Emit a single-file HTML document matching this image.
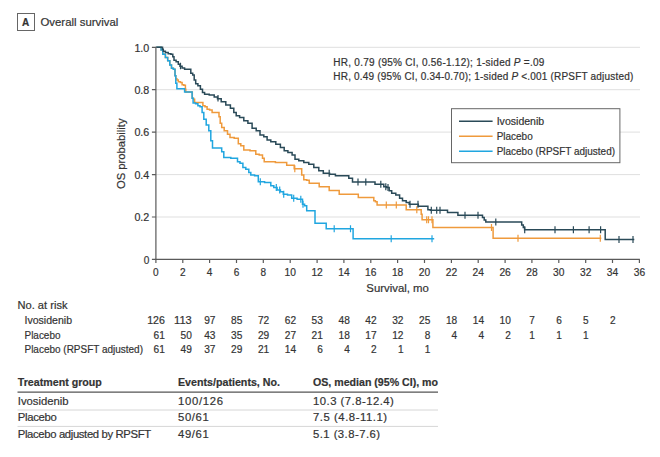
<!DOCTYPE html>
<html lang="en"><head><meta charset="utf-8"><title>Overall survival</title>
<style>html,body{margin:0;padding:0;background:#fff}svg{display:block}text{stroke:#333;stroke-width:.2px}</style></head>
<body>
<svg width="660" height="457" viewBox="0 0 660 457" font-family="'Liberation Sans', sans-serif" fill="#333">
<rect width="660" height="457" fill="#fff"/>
<line x1="155.9" x2="640" y1="47.3" y2="47.3" stroke="#dfdfdf" stroke-width="1"/>
<line x1="155.9" x2="640" y1="89.7" y2="89.7" stroke="#dfdfdf" stroke-width="1"/>
<line x1="155.9" x2="640" y1="132.1" y2="132.1" stroke="#dfdfdf" stroke-width="1"/>
<line x1="155.9" x2="640" y1="174.6" y2="174.6" stroke="#dfdfdf" stroke-width="1"/>
<line x1="155.9" x2="640" y1="217.0" y2="217.0" stroke="#dfdfdf" stroke-width="1"/>

<g fill="none" stroke-width="1.5" stroke-linejoin="miter">
<path d="M156.3 47.3H160.8H161.1V50.0H161.3H162.8V54.2H164.2H165.4V57.5H166.7H167.7V60.8H168.7H169.8V65.0H170.8H171.5V68.3H172.2H173.4V69.2H174.7H175.0V75.8H175.3H175.8V78.7H176.3H176.9V80.0H177.5H178.3V81.7H179.2H180.4V82.5H181.7H182.1V84.7H182.5H183.8V85.3H185.0H185.4V89.2H185.8V92.0H191.7H192.3V98.3H193.0H193.6V99.2H194.2H194.6V102.5H195.0H202.5H202.9V105.8H203.3H205.0V106.7H206.7H207.1V109.2H207.5H209.6V110.0H211.7H212.1V112.5H212.5H218.3H219.0V116.7H219.7H220.2V123.3H220.8H221.7V127.5H222.5H224.2V130.8H225.8H227.5V134.2H229.2H230.0V137.5H230.8H234.2V138.3H237.5H238.3V143.7H239.2H240.8V145.8H242.5H243.8V150.0H245.0H250.0V150.8H255.0H255.8V154.2H256.7H259.2V155.0H261.7H262.5V158.3H263.3H264.2V161.7H265.0H275.4V162.5H285.8H286.7V165.3H287.5H293.3H294.2V168.7H295.0H300.8H301.7V175.0H302.5H303.8V179.7H305.0H306.7V180.3H308.3H309.2V183.3H310.0H318.3H319.2V186.7H320.0H328.3H329.2V190.5H330.0H338.3H339.2V194.2H340.0H357.5H358.3V197.5H359.2H373.3H373.8V200.8H374.2H375.4V201.7H376.7H377.1V205.0H377.5H405.8H406.2V209.7H406.7H420.8H421.2V214.2H421.7H422.1V219.7H422.5H432.5H432.9V227.5H433.3H492.5H493.1V238.3H493.7H601.3" stroke="#ef9a3c"/>
<path d="M294.8 165.2v7.0M386.3 201.5v7.0M396.3 201.5v7.0M416.8 206.2v7.0M426.7 216.2v7.0M428.5 216.2v7.0M432.0 216.2v7.0M491.5 224.0v7.0M518.0 234.8v7.0M600.3 234.8v7.0" stroke="#ef9a3c" stroke-width="1.2"/>
<path d="M156.3 47.3H160.8H161.1V50.0H161.3H162.8V54.2H164.2H165.4V57.5H166.7H167.7V60.8H168.7H169.8V65.0H170.8H171.5V68.3H172.2H173.4V69.2H174.7H175.0V75.8H175.3H175.8V83.3H176.3H176.9V88.8H177.5H184.2H184.6V92.0H185.0H191.7H192.1V98.3H192.5H193.1V103.0H193.7H195.6V103.7H197.5H197.9V105.8H198.3H200.0V106.7H201.7H202.1V112.5H202.5H203.8V119.2H205.0H206.2V125.0H207.5H208.8V130.8H210.0H210.8V140.8H211.7H212.5V148.0H213.3H220.8H221.7V151.7H222.5H223.8V157.5H225.0H230.8V158.3H236.7H237.5V161.7H238.3H240.0V163.3H241.7H242.9V167.5H244.2H245.8V169.2H247.5H248.8V172.5H250.0H250.8V175.0H251.7H254.6V175.8H257.5H258.3V181.7H259.2H264.6V182.5H270.0H270.8V185.8H271.7H273.8V187.5H275.8H277.1V190.0H278.3H280.4V191.7H282.5H283.3V194.2H284.2H287.5V195.0H290.8H291.7V198.3H292.5H297.1V199.2H301.7H302.5V204.2H303.3H304.6V205.8H305.8H306.7V210.8H307.5H314.2H315.0V223.3H315.8H325.8H326.2V228.7H326.7H352.5H353.1V238.7H353.7H434.2" stroke="#20a6e0"/>
<path d="M260.3 178.2v7.0M276.3 184.0v7.0M279.7 186.5v7.0M283.7 190.7v7.0M293.7 194.8v7.0M300.8 195.7v7.0M303.0 200.7v7.0M334.2 225.2v7.0M350.5 225.2v7.0M391.2 235.2v7.0M432.0 235.2v7.0" stroke="#20a6e0" stroke-width="1.2"/>
<path d="M156.3 47.3H162.5V49.2H163.3V51.3H164.2H165.4V52.5H166.7H168.2V53.7H169.7H170.9V54.2H172.2H172.8V56.7H173.3H174.0V60.3H174.7H176.1V61.7H177.5H178.3V64.2H179.2H180.0V66.3H180.8H182.1V68.0H183.3H184.6V69.2H185.8H190.0H190.8V73.3H191.7H192.7V75.0H193.7H194.2V80.0H194.7H195.7V83.7H196.7H197.9V85.8H199.2H200.4V89.2H201.7H202.5V92.5H203.3H204.6V94.2H205.8H209.2V95.0H212.5H214.2V97.0H215.8H217.5V98.7H219.2H221.2V101.7H223.3H225.8V105.0H228.3H230.4V108.3H232.5H233.8V112.5H235.0H236.2V115.8H237.5H239.6V117.5H241.7H243.8V120.8H245.8H247.9V123.3H250.0H252.1V128.3H254.2H256.2V130.8H258.3H260.0V135.0H261.7H263.8V136.7H265.8H267.1V140.0H268.3H270.8V141.7H273.3H275.8V144.2H278.3H280.4V147.5H282.5H284.2V150.8H285.8H287.9V152.5H290.0H292.1V155.0H294.2H295.0V159.2H295.8H298.8V160.8H301.7H303.8V162.5H305.8H308.8V164.2H311.7H313.8V167.5H315.8H318.8V170.8H321.7H323.3V173.3H325.0H329.6V174.2H334.2H335.4V175.8H336.7H346.7H348.8V178.3H350.8H352.5V182.0H354.2H374.2H375.0V184.2H375.8H382.5H383.8V186.7H385.0H386.7V187.5H388.3H389.2V190.8H390.0H391.7V193.3H393.3H395.8V195.0H398.3H399.6V198.3H400.8H402.5V200.8H404.2H406.2V202.5H408.3H409.2V204.2H410.0H417.5H418.3V206.2H419.2H426.7H427.9V209.7H429.2H430.4V210.3H431.7H446.7H447.5V212.5H448.3H457.5H457.9V215.3H458.3H481.7H482.5V217.5H483.3H484.2V220.0H485.0H485.8V222.0H486.7H520.8H521.7V225.0H522.5H523.3V227.5H524.2H524.6V229.7H525.0H605.2V239.4H634.3" stroke="#2a4a58"/>
<path d="M329.2 169.8v7.0M358.0 178.5v7.0M365.8 178.5v7.0M380.8 180.7v7.0M385.8 183.2v7.0M388.0 184.0v7.0M410.0 200.7v7.0M418.0 200.7v7.0M431.3 206.8v7.0M436.7 206.8v7.0M440.0 206.8v7.0M465.0 211.8v7.0M478.0 211.8v7.0M495.8 218.5v7.0M524.7 226.2v7.0M555.0 226.2v7.0M573.4 226.2v7.0M589.1 226.2v7.0M600.6 226.2v7.0M619.0 235.9v7.0M633.0 235.9v7.0M180.5 62.7v6.6M218.0 95.0v6.6" stroke="#2a4a58" stroke-width="1.2"/>
</g>
<g stroke="#5a5a5a" stroke-width="1.2" fill="none">
<path d="M155.9 46.8V259.9"/>
<path d="M155.4 259.4H639.9"/>
<path d="M155.9 47.3h-4M155.9 89.7h-4M155.9 132.1h-4M155.9 174.6h-4M155.9 217.0h-4M155.9 259.4h-4M155.9 259.4v3.7M182.8 259.4v3.7M209.6 259.4v3.7M236.5 259.4v3.7M263.3 259.4v3.7M290.2 259.4v3.7M317.1 259.4v3.7M343.9 259.4v3.7M370.8 259.4v3.7M397.6 259.4v3.7M424.5 259.4v3.7M451.4 259.4v3.7M478.2 259.4v3.7M505.1 259.4v3.7M531.9 259.4v3.7M558.8 259.4v3.7M585.7 259.4v3.7M612.5 259.4v3.7M639.4 259.4v3.7"/>
</g>
<text x="149.3" y="51.5" font-size="11.2" text-anchor="end" textLength="14.9" lengthAdjust="spacingAndGlyphs">1.0</text>
<text x="149.3" y="93.9" font-size="11.2" text-anchor="end" textLength="14.9" lengthAdjust="spacingAndGlyphs">0.8</text>
<text x="149.3" y="136.3" font-size="11.2" text-anchor="end" textLength="14.9" lengthAdjust="spacingAndGlyphs">0.6</text>
<text x="149.3" y="178.8" font-size="11.2" text-anchor="end" textLength="14.9" lengthAdjust="spacingAndGlyphs">0.4</text>
<text x="149.3" y="221.2" font-size="11.2" text-anchor="end" textLength="14.9" lengthAdjust="spacingAndGlyphs">0.2</text>
<text x="149.3" y="263.6" font-size="11.2" text-anchor="end" textLength="5.6" lengthAdjust="spacingAndGlyphs">0</text>
<text x="155.9" y="275.6" font-size="11.2" text-anchor="middle" textLength="5.6" lengthAdjust="spacingAndGlyphs">0</text>
<text x="182.8" y="275.6" font-size="11.2" text-anchor="middle" textLength="5.6" lengthAdjust="spacingAndGlyphs">2</text>
<text x="209.6" y="275.6" font-size="11.2" text-anchor="middle" textLength="5.6" lengthAdjust="spacingAndGlyphs">4</text>
<text x="236.5" y="275.6" font-size="11.2" text-anchor="middle" textLength="5.6" lengthAdjust="spacingAndGlyphs">6</text>
<text x="263.3" y="275.6" font-size="11.2" text-anchor="middle" textLength="5.6" lengthAdjust="spacingAndGlyphs">8</text>
<text x="290.2" y="275.6" font-size="11.2" text-anchor="middle" textLength="11.4" lengthAdjust="spacingAndGlyphs">10</text>
<text x="317.1" y="275.6" font-size="11.2" text-anchor="middle" textLength="11.4" lengthAdjust="spacingAndGlyphs">12</text>
<text x="343.9" y="275.6" font-size="11.2" text-anchor="middle" textLength="11.4" lengthAdjust="spacingAndGlyphs">14</text>
<text x="370.8" y="275.6" font-size="11.2" text-anchor="middle" textLength="11.4" lengthAdjust="spacingAndGlyphs">16</text>
<text x="397.6" y="275.6" font-size="11.2" text-anchor="middle" textLength="11.4" lengthAdjust="spacingAndGlyphs">18</text>
<text x="424.5" y="275.6" font-size="11.2" text-anchor="middle" textLength="11.4" lengthAdjust="spacingAndGlyphs">20</text>
<text x="451.4" y="275.6" font-size="11.2" text-anchor="middle" textLength="11.4" lengthAdjust="spacingAndGlyphs">22</text>
<text x="478.2" y="275.6" font-size="11.2" text-anchor="middle" textLength="11.4" lengthAdjust="spacingAndGlyphs">24</text>
<text x="505.1" y="275.6" font-size="11.2" text-anchor="middle" textLength="11.4" lengthAdjust="spacingAndGlyphs">26</text>
<text x="531.9" y="275.6" font-size="11.2" text-anchor="middle" textLength="11.4" lengthAdjust="spacingAndGlyphs">28</text>
<text x="558.8" y="275.6" font-size="11.2" text-anchor="middle" textLength="11.4" lengthAdjust="spacingAndGlyphs">30</text>
<text x="585.7" y="275.6" font-size="11.2" text-anchor="middle" textLength="11.4" lengthAdjust="spacingAndGlyphs">32</text>
<text x="612.5" y="275.6" font-size="11.2" text-anchor="middle" textLength="11.4" lengthAdjust="spacingAndGlyphs">34</text>
<text x="639.4" y="275.6" font-size="11.2" text-anchor="middle" textLength="11.4" lengthAdjust="spacingAndGlyphs">36</text>
<text x="397.6" y="292.0" font-size="11.3" text-anchor="middle" textLength="62.5" lengthAdjust="spacingAndGlyphs">Survival, mo</text>
<text transform="translate(125.2 153.8) rotate(-90)" font-size="11.3" text-anchor="middle" textLength="70.6" lengthAdjust="spacingAndGlyphs">OS probability</text>
<rect x="17.5" y="13.5" width="17" height="17" fill="#fff" stroke="#666" stroke-width="1"/>
<text x="25.7" y="25.9" font-size="10" text-anchor="middle" font-weight="bold">A</text>
<text x="40.5" y="25.6" font-size="11.4" text-anchor="start" textLength="77.8" lengthAdjust="spacingAndGlyphs">Overall survival</text>
<text x="333.3" y="66.2" font-size="10" textLength="211" lengthAdjust="spacing">HR, 0.79 (95% CI, 0.56-1.12); 1-sided <tspan font-style="italic">P</tspan> =.09</text>
<text x="333.3" y="79.6" font-size="10" textLength="300" lengthAdjust="spacing">HR, 0.49 (95% CI, 0.34-0.70); 1-sided <tspan font-style="italic">P</tspan> &lt;.001 (RPSFT adjusted)</text>
<rect x="451.5" y="108.7" width="168.4" height="54" fill="#fff" stroke="#666" stroke-width="1"/>
<line x1="459" x2="492.6" y1="121.2" y2="121.2" stroke="#2a4a58" stroke-width="1.5"/>
<text x="496.7" y="124.9" font-size="10.5" text-anchor="start" textLength="47.5" lengthAdjust="spacingAndGlyphs">Ivosidenib</text>
<line x1="459" x2="492.6" y1="136.2" y2="136.2" stroke="#ef9a3c" stroke-width="1.5"/>
<text x="496.7" y="139.9" font-size="10.5" text-anchor="start" textLength="36.0" lengthAdjust="spacingAndGlyphs">Placebo</text>
<line x1="459" x2="492.6" y1="151.2" y2="151.2" stroke="#20a6e0" stroke-width="1.5"/>
<text x="496.7" y="154.9" font-size="10.5" text-anchor="start" textLength="118.3" lengthAdjust="spacingAndGlyphs">Placebo (RPSFT adjusted)</text>
<text x="17.5" y="308.8" font-size="11" text-anchor="start" textLength="50.0" lengthAdjust="spacingAndGlyphs">No. at risk</text>
<text x="24.5" y="323.5" font-size="10.8" text-anchor="start" textLength="47.5" lengthAdjust="spacingAndGlyphs">Ivosidenib</text>
<text x="164.9" y="323.5" font-size="10.8" text-anchor="end" textLength="17.7" lengthAdjust="spacingAndGlyphs">126</text>
<text x="191.8" y="323.5" font-size="10.8" text-anchor="end" textLength="17.7" lengthAdjust="spacingAndGlyphs">113</text>
<text x="215.5" y="323.5" font-size="10.8" text-anchor="end" textLength="11.3" lengthAdjust="spacingAndGlyphs">97</text>
<text x="242.3" y="323.5" font-size="10.8" text-anchor="end" textLength="11.3" lengthAdjust="spacingAndGlyphs">85</text>
<text x="269.2" y="323.5" font-size="10.8" text-anchor="end" textLength="11.3" lengthAdjust="spacingAndGlyphs">72</text>
<text x="296.1" y="323.5" font-size="10.8" text-anchor="end" textLength="11.3" lengthAdjust="spacingAndGlyphs">62</text>
<text x="322.9" y="323.5" font-size="10.8" text-anchor="end" textLength="11.3" lengthAdjust="spacingAndGlyphs">53</text>
<text x="349.8" y="323.5" font-size="10.8" text-anchor="end" textLength="11.3" lengthAdjust="spacingAndGlyphs">48</text>
<text x="376.6" y="323.5" font-size="10.8" text-anchor="end" textLength="11.3" lengthAdjust="spacingAndGlyphs">42</text>
<text x="403.5" y="323.5" font-size="10.8" text-anchor="end" textLength="11.3" lengthAdjust="spacingAndGlyphs">32</text>
<text x="430.3" y="323.5" font-size="10.8" text-anchor="end" textLength="11.3" lengthAdjust="spacingAndGlyphs">25</text>
<text x="457.2" y="323.5" font-size="10.8" text-anchor="end" textLength="11.3" lengthAdjust="spacingAndGlyphs">18</text>
<text x="484.1" y="323.5" font-size="10.8" text-anchor="end" textLength="11.3" lengthAdjust="spacingAndGlyphs">14</text>
<text x="510.9" y="323.5" font-size="10.8" text-anchor="end" textLength="11.3" lengthAdjust="spacingAndGlyphs">10</text>
<text x="534.9" y="323.5" font-size="10.8" text-anchor="end" textLength="5.6" lengthAdjust="spacingAndGlyphs">7</text>
<text x="561.8" y="323.5" font-size="10.8" text-anchor="end" textLength="5.6" lengthAdjust="spacingAndGlyphs">6</text>
<text x="588.7" y="323.5" font-size="10.8" text-anchor="end" textLength="5.6" lengthAdjust="spacingAndGlyphs">5</text>
<text x="615.5" y="323.5" font-size="10.8" text-anchor="end" textLength="5.6" lengthAdjust="spacingAndGlyphs">2</text>
<text x="24.5" y="338.5" font-size="10.8" text-anchor="start" textLength="36.0" lengthAdjust="spacingAndGlyphs">Placebo</text>
<text x="164.9" y="338.5" font-size="10.8" text-anchor="end" textLength="11.3" lengthAdjust="spacingAndGlyphs">61</text>
<text x="191.8" y="338.5" font-size="10.8" text-anchor="end" textLength="11.3" lengthAdjust="spacingAndGlyphs">50</text>
<text x="215.5" y="338.5" font-size="10.8" text-anchor="end" textLength="11.3" lengthAdjust="spacingAndGlyphs">43</text>
<text x="242.3" y="338.5" font-size="10.8" text-anchor="end" textLength="11.3" lengthAdjust="spacingAndGlyphs">35</text>
<text x="269.2" y="338.5" font-size="10.8" text-anchor="end" textLength="11.3" lengthAdjust="spacingAndGlyphs">29</text>
<text x="296.1" y="338.5" font-size="10.8" text-anchor="end" textLength="11.3" lengthAdjust="spacingAndGlyphs">27</text>
<text x="322.9" y="338.5" font-size="10.8" text-anchor="end" textLength="11.3" lengthAdjust="spacingAndGlyphs">21</text>
<text x="349.8" y="338.5" font-size="10.8" text-anchor="end" textLength="11.3" lengthAdjust="spacingAndGlyphs">18</text>
<text x="376.6" y="338.5" font-size="10.8" text-anchor="end" textLength="11.3" lengthAdjust="spacingAndGlyphs">17</text>
<text x="403.5" y="338.5" font-size="10.8" text-anchor="end" textLength="11.3" lengthAdjust="spacingAndGlyphs">12</text>
<text x="430.3" y="338.5" font-size="10.8" text-anchor="end" textLength="5.6" lengthAdjust="spacingAndGlyphs">8</text>
<text x="457.2" y="338.5" font-size="10.8" text-anchor="end" textLength="5.6" lengthAdjust="spacingAndGlyphs">4</text>
<text x="484.1" y="338.5" font-size="10.8" text-anchor="end" textLength="5.6" lengthAdjust="spacingAndGlyphs">4</text>
<text x="510.9" y="338.5" font-size="10.8" text-anchor="end" textLength="5.6" lengthAdjust="spacingAndGlyphs">2</text>
<text x="534.9" y="338.5" font-size="10.8" text-anchor="end" textLength="5.6" lengthAdjust="spacingAndGlyphs">1</text>
<text x="561.8" y="338.5" font-size="10.8" text-anchor="end" textLength="5.6" lengthAdjust="spacingAndGlyphs">1</text>
<text x="588.7" y="338.5" font-size="10.8" text-anchor="end" textLength="5.6" lengthAdjust="spacingAndGlyphs">1</text>
<text x="24.5" y="353.4" font-size="10.8" text-anchor="start" textLength="118.5" lengthAdjust="spacingAndGlyphs">Placebo (RPSFT adjusted)</text>
<text x="164.9" y="353.4" font-size="10.8" text-anchor="end" textLength="11.3" lengthAdjust="spacingAndGlyphs">61</text>
<text x="191.8" y="353.4" font-size="10.8" text-anchor="end" textLength="11.3" lengthAdjust="spacingAndGlyphs">49</text>
<text x="215.5" y="353.4" font-size="10.8" text-anchor="end" textLength="11.3" lengthAdjust="spacingAndGlyphs">37</text>
<text x="242.3" y="353.4" font-size="10.8" text-anchor="end" textLength="11.3" lengthAdjust="spacingAndGlyphs">29</text>
<text x="269.2" y="353.4" font-size="10.8" text-anchor="end" textLength="11.3" lengthAdjust="spacingAndGlyphs">21</text>
<text x="296.1" y="353.4" font-size="10.8" text-anchor="end" textLength="11.3" lengthAdjust="spacingAndGlyphs">14</text>
<text x="322.9" y="353.4" font-size="10.8" text-anchor="end" textLength="5.6" lengthAdjust="spacingAndGlyphs">6</text>
<text x="349.8" y="353.4" font-size="10.8" text-anchor="end" textLength="5.6" lengthAdjust="spacingAndGlyphs">4</text>
<text x="376.6" y="353.4" font-size="10.8" text-anchor="end" textLength="5.6" lengthAdjust="spacingAndGlyphs">2</text>
<text x="403.5" y="353.4" font-size="10.8" text-anchor="end" textLength="5.6" lengthAdjust="spacingAndGlyphs">1</text>
<text x="430.3" y="353.4" font-size="10.8" text-anchor="end" textLength="5.6" lengthAdjust="spacingAndGlyphs">1</text>
<line x1="17.5" x2="438" y1="392.1" y2="392.1" stroke="#555" stroke-width="1.3"/>
<line x1="17.5" x2="438" y1="410" y2="410" stroke="#d6d6d6" stroke-width="1"/>
<line x1="17.5" x2="438" y1="426.4" y2="426.4" stroke="#d6d6d6" stroke-width="1"/>
<text x="17.8" y="386.3" font-size="11" text-anchor="start" textLength="84.0" lengthAdjust="spacingAndGlyphs" font-weight="bold">Treatment group</text>
<text x="178.0" y="386.3" font-size="11" text-anchor="start" textLength="102.0" lengthAdjust="spacingAndGlyphs" font-weight="bold">Events/patients, No.</text>
<text x="313.0" y="386.3" font-size="11" text-anchor="start" textLength="125.0" lengthAdjust="spacingAndGlyphs" font-weight="bold">OS, median (95% CI), mo</text>
<text x="17.8" y="404.5" font-size="11.3" text-anchor="start" textLength="50.8" lengthAdjust="spacing">Ivosidenib</text>
<text x="178.0" y="404.5" font-size="11.3" text-anchor="start" textLength="45.0" lengthAdjust="spacing">100/126</text>
<text x="313.0" y="404.5" font-size="11.3" text-anchor="start" textLength="80.8" lengthAdjust="spacing">10.3 (7.8-12.4)</text>
<text x="17.8" y="421.3" font-size="11.3" text-anchor="start" textLength="39.0" lengthAdjust="spacing">Placebo</text>
<text x="178.0" y="421.3" font-size="11.3" text-anchor="start" textLength="30.8" lengthAdjust="spacing">50/61</text>
<text x="313.0" y="421.3" font-size="11.3" text-anchor="start" textLength="74.0" lengthAdjust="spacing">7.5 (4.8-11.1)</text>
<text x="17.8" y="438.3" font-size="11.3" text-anchor="start" textLength="133.3" lengthAdjust="spacing">Placebo adjusted by RPSFT</text>
<text x="178.0" y="438.3" font-size="11.3" text-anchor="start" textLength="30.8" lengthAdjust="spacing">49/61</text>
<text x="313.0" y="438.3" font-size="11.3" text-anchor="start" textLength="67.0" lengthAdjust="spacing">5.1 (3.8-7.6)</text>
</svg>
</body></html>
